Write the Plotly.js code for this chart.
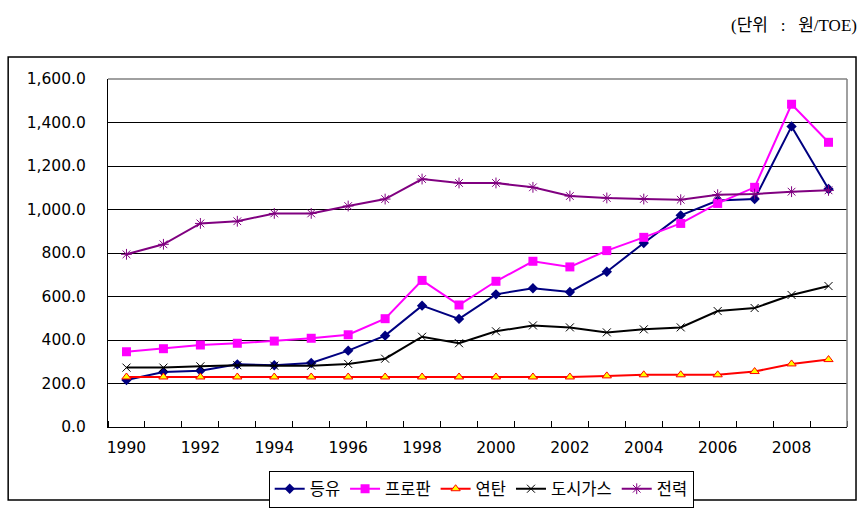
<!DOCTYPE html>
<html>
<head>
<meta charset="utf-8">
<script src="https://cdn.plot.ly/plotly-3.0.1.min.js"></script>
<style>html,body{margin:0;padding:0;background:#fff;}#chart{width:867px;height:513px;}</style>
</head>
<body>
<div id="chart"></div>
<script>
const years = [1990,1991,1992,1993,1994,1995,1996,1997,1998,1999,2000,2001,2002,2003,2004,2005,2006,2007,2008,2009];
const labelYears = [1990,1992,1994,1996,1998,2000,2002,2004,2006,2008];
const kerosene = [216,253,259,288,284,294,351,420,558,497,610,638,621,714,846,973,1041,1048,1382,1094];
const propane  = [346,360,377,385,395,408,424,498,674,561,670,762,736,811,872,936,1028,1102,1484,1309];
const briquette= [230,230,230,230,230,230,230,230,230,230,230,230,230,235,240,240,240,255,290,310];
const cityGas  = [273,273,279,284,282,282,290,314,415,385,440,467,458,435,449,458,533,547,607,648];
const power    = [794,840,936,946,982,982,1016,1048,1140,1122,1122,1102,1062,1053,1048,1045,1068,1071,1082,1088];
const names = ['등유','프로판','연탄','도시가스','전력'];

const traces = [
  {x: years, y: kerosene, name: names[0], mode: 'lines+markers',
   line: {color: '#000080', width: 2}, marker: {symbol: 'diamond', size: 8, color: '#000080'}},
  {x: years, y: propane, name: names[1], mode: 'lines+markers',
   line: {color: '#FF00FF', width: 2}, marker: {symbol: 'square', size: 9, color: '#FF00FF'}},
  {x: years, y: briquette, name: names[2], mode: 'lines+markers',
   line: {color: '#FF0000', width: 2}, marker: {symbol: 'triangle-up', size: 8, color: '#FFFF00', line: {color: '#FF0000', width: 1}}},
  {x: years, y: cityGas, name: names[3], mode: 'lines+markers',
   line: {color: '#000000', width: 2}, marker: {symbol: 'x-thin-open', size: 8, color: '#000000', line: {color: '#000000', width: 1}}},
  {x: years, y: power, name: names[4], mode: 'lines+markers',
   line: {color: '#800080', width: 2}, marker: {symbol: 'asterisk-open', size: 9, color: '#800080', line: {color: '#800080', width: 1}}}
];

const tickFont = {family: 'DejaVu Sans, Noto Sans CJK KR, sans-serif', size: 15.5, color: '#000'};

const layout = {
  width: 867, height: 513,
  margin: {l: 108, r: 20, t: 79, b: 86, autoexpand: false},
  paper_bgcolor: '#fff', plot_bgcolor: '#fff',
  showlegend: true,
  legend: {
    orientation: 'h', x: 0.505, xanchor: 'center', y: -0.125, yanchor: 'top',
    bordercolor: '#000', borderwidth: 1, bgcolor: '#fff',
    font: {family: 'Noto Sans CJK KR, sans-serif', size: 16.5, color: '#000'},
    itemwidth: 30, tracegroupgap: 0
  },
  xaxis: {
    type: 'linear', range: [1989.5, 2009.5],
    tickmode: 'array', tickvals: labelYears, ticktext: labelYears.map(String),
    ticks: '', showgrid: false, zeroline: false,
    showline: true, linecolor: '#000', linewidth: 1,
    tickfont: tickFont, ticklabelstandoff: 6,
    minor: {tick0: 1989.5, dtick: 1, ticks: 'inside', ticklen: 6, tickcolor: '#000', tickwidth: 1, showgrid: false}
  },
  yaxis: {
    range: [0, 1600], dtick: 200, tickformat: ',.1f',
    showgrid: true, gridcolor: '#000', gridwidth: 1,
    zeroline: false, showline: true, linecolor: '#000', linewidth: 1,
    ticks: '', tickfont: tickFont, ticklabelstandoff: 18
  },
  shapes: [
    {type: 'rect', xref: 'paper', yref: 'paper', x0: -0.1351, x1: 1.0122, y0: -0.2098, y1: 1.0632,
     line: {color: '#000', width: 1.5}, fillcolor: 'rgba(0,0,0,0)', layer: 'below'},
    {type: 'line', xref: 'paper', yref: 'paper', x0: 0, x1: 1, y0: 1, y1: 1, line: {color: '#808080', width: 1.5}},
    {type: 'line', xref: 'paper', yref: 'paper', x0: 1, x1: 1, y0: 0, y1: 1, line: {color: '#808080', width: 1.5}}
  ],
  annotations: [
    {text: '(단위\u00a0\u00a0\u00a0:\u00a0\u00a0\u00a0원/TOE)', xref: 'paper', yref: 'paper', x: 1.0162, y: 1.155, xanchor: 'right', yanchor: 'middle',
     showarrow: false, font: {family: 'Liberation Serif, Noto Sans CJK KR, serif', size: 17, color: '#000'}}
  ]
};

Plotly.newPlot('chart', traces, layout, {displayModeBar: false, staticPlot: true});
</script>
</body>
</html>
